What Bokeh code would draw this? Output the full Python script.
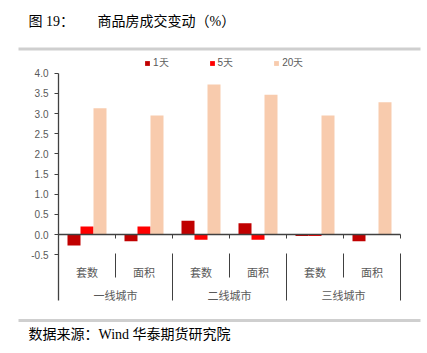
import numpy as np
from bokeh.plotting import figure
from bokeh.models import (Range1d, LinearAxis, FixedTicker, Legend, LegendItem,
                          ColumnDataSource, PrintfTickFormatter)
from bokeh.core.properties import value
from bokeh.embed import file_html
from bokeh.resources import INLINE

# ---- data ----
groups = ["一线城市", "二线城市", "三线城市"]
subcats = ["套数", "面积", "套数", "面积", "套数", "面积"]
series_names = ["1天", "5天", "20天"]
day1 = [-0.27, -0.17, 0.34, 0.28, -0.04, -0.17]
day5 = [0.20, 0.20, -0.13, -0.13, -0.04, 0.01]
day20 = [3.13, 2.95, 3.72, 3.47, 2.95, 3.28]
y_ticks = [-0.5, 0.0, 0.5, 1.0, 1.5, 2.0, 2.5, 3.0, 3.5, 4.0]
colors = ["#C00000", "#FF0000", "#F8CBAD"]

W, H = 427, 353
# pixel layout of the plotting area
X0, X1 = 58, 400      # category axis extent (px from left)
Y0 = 234              # pixel row of value 0 (from top)
PPU = 40.3            # pixels per value unit
n = len(subcats)
ppc = (X1 - X0) / n   # pixels per category


def dx(px):
    return (px - X0) / ppc


def dy(py):
    return (Y0 - py) / PPU


p = figure(width=W, height=H, output_backend="svg", toolbar_location=None,
           x_range=Range1d(dx(0), dx(W)), y_range=Range1d(dy(H), dy(0)),
           x_axis_location=None, y_axis_location=None, min_border=0,
           outline_line_color=None, background_fill_color="white",
           border_fill_color="white")
p.xgrid.visible = False
p.ygrid.visible = False

# ---- bars ----
centers = np.arange(n) + 0.5
bw = 13 / ppc
renderers = []
for k, (vals, col) in enumerate(zip([day1, day5, day20], colors)):
    src = ColumnDataSource(dict(x=centers + (k - 1) * bw, top=vals))
    r = p.vbar(x="x", top="top", bottom=0, width=bw, source=src,
               fill_color=col, line_color=None)
    renderers.append(r)

# ---- zero line with ticks ----
axis_col = "#404040"
p.segment(x0=[0], y0=[0], x1=[n], y1=[0], line_color=axis_col, line_width=1.3)
bx = np.arange(n + 1)
p.segment(x0=bx, y0=np.zeros(n + 1), x1=bx, y1=np.full(n + 1, dy(Y0 + 4)),
          line_color=axis_col, line_width=1)

# ---- y axis ----
yax = LinearAxis(fixed_location=0, ticker=FixedTicker(ticks=y_ticks),
                 bounds=(dy(300), 4.0), formatter=PrintfTickFormatter(format="%.1f"))
yax.axis_line_color = axis_col
yax.axis_line_width = 1.3
yax.major_tick_line_color = axis_col
yax.major_tick_out = 4
yax.major_tick_in = 0
yax.minor_tick_line_color = None
yax.major_label_standoff = 6
yax.major_label_text_font = "Liberation Sans"
yax.major_label_text_font_size = "10px"
yax.major_label_text_color = "#595959"
p.add_layout(yax, "left")

# ---- category axis (two levels) ----
sub_x = [1, 3, 5]
grp_x = [2, 4, 6]
p.segment(x0=sub_x, y0=[dy(253)] * 3, x1=sub_x, y1=[dy(277)] * 3,
          line_color=axis_col, line_width=1)
p.segment(x0=grp_x, y0=[dy(253)] * 3, x1=grp_x, y1=[dy(300)] * 3,
          line_color=axis_col, line_width=1)
p.text(x=centers, y=[dy(271)] * n, text=subcats, text_align="center",
       text_baseline="middle", text_font=value("Noto Sans CJK SC"),
       text_font_size="11px", text_color="#595959")
p.text(x=[1, 3, 5], y=[dy(294)] * 3, text=groups, text_align="center",
       text_baseline="middle", text_font=value("Noto Sans CJK SC"),
       text_font_size="11px", text_color="#595959")

# ---- title, rules and source ----
serif = value("Liberation Serif, Noto Sans CJK SC")
p.text(x=[dx(28)], y=[dy(21)], text=["图 19："], text_align="left",
       text_baseline="middle", text_font=serif, text_font_size="14px",
       text_color="#000000")
p.text(x=[dx(97)], y=[dy(21)], text=["商品房成交变动（%）"], text_align="left",
       text_baseline="middle", text_font=serif, text_font_size="14px",
       text_color="#000000")
p.segment(x0=[dx(18), dx(18)], y0=[dy(48.5), dy(320)],
          x1=[dx(420), dx(420)], y1=[dy(48.5), dy(320)],
          line_color="#CFCFCF", line_width=3)
p.text(x=[dx(28)], y=[dy(334)], text=["数据来源：Wind  华泰期货研究院"],
       text_align="left", text_baseline="middle", text_font=serif,
       text_font_size="14px", text_color="#000000")

# ---- legend ----
legend = Legend(items=[LegendItem(label=nm, renderers=[r])
                       for nm, r in zip(series_names, renderers)],
                orientation="horizontal", location=(144, H - 70),
                glyph_width=6, glyph_height=6, label_standoff=3,
                label_height=10, label_width=10, spacing=40, padding=0,
                margin=0, border_line_color=None, background_fill_alpha=0,
                label_text_font="Liberation Sans", label_text_font_size="10px",
                label_text_color="#595959")
p.add_layout(legend, "center")

open("out.html", "w").write(file_html(p, INLINE))
